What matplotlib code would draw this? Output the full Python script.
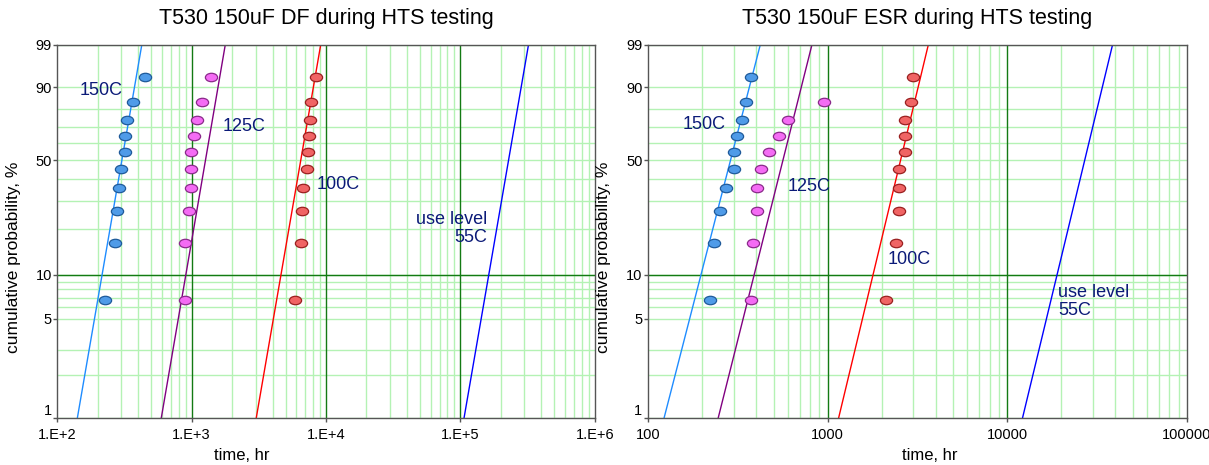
import numpy as np
import matplotlib
matplotlib.use("Agg")
import matplotlib.pyplot as plt
from matplotlib.path import Path
from matplotlib.transforms import Affine2D

plt.rcParams['font.family'] = ['Liberation Sans', 'DejaVu Sans']

# ---------------- data ----------------
# median ranks for the 10 parts of each group, %
probs = [6.7, 16.3, 26.0, 35.6, 45.2, 54.8, 64.4, 74.0, 83.7, 93.3]

# DF failure times, hr
df_150 = [227, 269, 278, 288, 299, 319, 319, 328, 366, 447]
df_125 = [896, 896, 950, 993, 993, 993, 1045, 1101, 1187, 1392]
df_100 = [5900, 6470, 6650, 6770, 7250, 7300, 7460, 7550, 7760, 8460]

# ESR failure times, hr (only 9 parts failed at 125C)
esr_150 = [222, 233, 253, 273, 302, 302, 313, 334, 353, 375]
esr_125 = [375, 383, 403, 403, 424, 474, 536, 604, 955]
esr_100 = [2106, 2413, 2508, 2508, 2508, 2708, 2708, 2708, 2902, 3000]

# Weibull fits: (eta, beta)
df_fits = {'150C': (323, 5.55), '125C': (1353, 5.59), '100C': (6930, 5.55), '55C': (244000, 5.55)}
esr_fits = {'150C': (310, 4.97), '125C': (606, 5.10), '100C': (2730, 5.33), '55C': (28950, 5.31)}

line_col = {'150C': '#1E8CFF', '125C': '#800080', '100C': '#FF0000', '55C': '#0000FF'}
pt_face = {'150C': '#4F9BE8', '125C': '#F46CF4', '100C': '#F06464'}
pt_edge = {'150C': '#1F5A9A', '125C': '#8A2A8A', '100C': '#9A2020'}

y_major = [1, 5, 10, 50, 90, 99]
y_minor = [2, 3, 6, 7, 8, 9, 20, 30, 40, 60, 70, 80]


def fwd(p):
    p = np.clip(np.asarray(p, dtype=float), 1e-6, 100 - 1e-9)
    return np.log(-np.log(1 - p / 100.0))


def inv(w):
    return 100.0 * (1 - np.exp(-np.exp(w)))


ellipse = Path(Affine2D().scale(1.45, 1.0).transform(Path.unit_circle().vertices),
               Path.unit_circle().codes)

label_col = '#0B1A78'
light = '#B4F2B4'
dark = '#137A13'


def weibull_paper(ax, decades, xlabels, fits, pts, texts, title, xlab_x):
    ax.set_xscale('log')
    ax.set_yscale('function', functions=(fwd, inv))
    ax.set_xlim(decades[0], decades[-1])
    ax.set_ylim(1, 99)

    minor_x = [m * d for d in decades[:-1] for m in range(2, 10)]
    ax.set_xticks(decades)
    ax.set_xticklabels(xlabels)
    ax.set_xticks(minor_x, minor=True)
    ax.set_yticks(y_major)
    ax.set_yticklabels([str(v) for v in y_major])
    ax.set_yticks(y_minor, minor=True)
    ax.tick_params(which='major', length=3, width=1, color='#555555', labelsize=10.5, pad=1)
    ax.tick_params(axis='x', which='major', pad=4)
    ax.tick_params(which='minor', length=0)
    # the "1" label sits just above the first x label
    ax.get_yticklabels()[0].set_va('bottom')

    for v in minor_x:
        ax.axvline(v, color=light, lw=1, zorder=0)
    for v in y_major + y_minor:
        ax.axhline(v, color=light, lw=1, zorder=0)
    for v in decades[1:-1]:
        ax.axvline(v, color=dark, lw=1, zorder=0.5)
    ax.axhline(10, color=dark, lw=1, zorder=0.5)

    for key, (eta, beta) in fits.items():
        pp = np.array([0.3, 99.7])
        tt = eta * (-np.log(1 - pp / 100.0)) ** (1.0 / beta)
        ax.plot(tt, pp, color=line_col[key], lw=1, zorder=2)

    for key, times in pts.items():
        ax.plot(times, probs[:len(times)], ls='none', marker=ellipse, ms=8.8,
                mfc=pt_face[key], mec=pt_edge[key], mew=0.9, zorder=3)

    for x, y, s, ha in texts:
        ax.text(x, y, s, transform=ax.transAxes, ha=ha, va='center', color=label_col,
                fontsize=13, linespacing=1.1, multialignment=ha)

    for sp in ax.spines.values():
        sp.set_color('#555555')
        sp.set_linewidth(1)

    ax.set_title(title, fontsize=15.5, pad=15)
    ax.set_xlabel('time, hr', fontsize=12, labelpad=5)
    ax.xaxis.set_label_coords(xlab_x, -0.08)
    ax.set_ylabel('cumulative probability, %', fontsize=12.5, labelpad=4)
    ax.yaxis.set_label_coords(-0.068, 0.43)


fig = plt.figure(figsize=(12.09, 4.65), dpi=100)
ax1 = fig.add_axes([0.0474, 0.1011, 0.4445, 0.8022])
ax2 = fig.add_axes([0.536, 0.1011, 0.4456, 0.8022])

weibull_paper(ax1, [1e2, 1e3, 1e4, 1e5, 1e6], ['1.E+2', '1.E+3', '1.E+4', '1.E+5', '1.E+6'],
              df_fits, {'150C': df_150, '125C': df_125, '100C': df_100},
              [(0.042, 0.879, '150C', 'left'), (0.308, 0.781, '125C', 'left'),
               (0.483, 0.627, '100C', 'left'), (0.80, 0.508, 'use level\n55C', 'right')],
              'T530 150uF DF during HTS testing', 0.344)

weibull_paper(ax2, [1e2, 1e3, 1e4, 1e5], ['100', '1000', '10000', '100000'],
              esr_fits, {'150C': esr_150, '125C': esr_125, '100C': esr_100},
              [(0.064, 0.787, '150C', 'left'), (0.259, 0.620, '125C', 'left'),
               (0.444, 0.424, '100C', 'left'), (0.761, 0.312, 'use level\n55C', 'left')],
              'T530 150uF ESR during HTS testing', 0.523)

fig.savefig('out.png', dpi=100)
